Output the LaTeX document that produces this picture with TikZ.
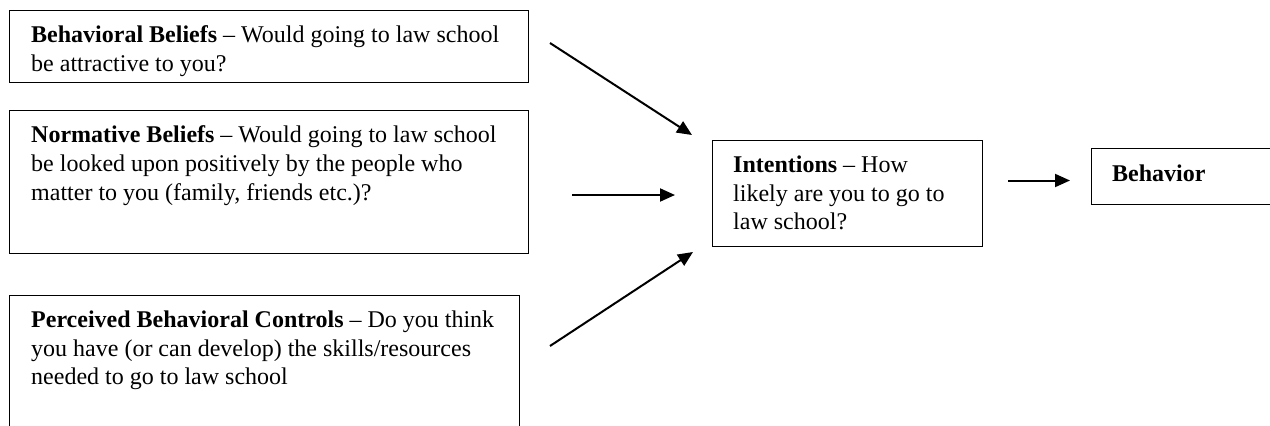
\documentclass[tikz,border=0pt]{standalone}
\usepackage{fontspec}
\setmainfont{Liberation Serif}
\usetikzlibrary{arrows.meta}
\tikzset{
  boxframe/.style={draw=black, line width=1.2pt, inner sep=0pt, anchor=north west, fill=none},
  boxtext/.style={inner sep=0pt, anchor=base west},
  flow/.style={line width=2pt, -{Triangle[length=15pt,width=13pt]}}
}
\newcommand{\bt}[1]{\parbox[t]{560pt}{\fontsize{24pt}{28.7pt}\selectfont\raggedright #1}}
\begin{document}
\begin{tikzpicture}[x=1pt,y=-1pt]
\useasboundingbox (0,0) rectangle (1270,426);
\clip (0,0) rectangle (1270,426);
\fill[white] (0,0) rectangle (1270,426);
% boxes
\node[boxframe, minimum width=519pt, minimum height=72pt] (b1) at (9,10) {};
\node[boxframe, minimum width=519pt, minimum height=143pt] (b2) at (9,110) {};
\node[boxframe, minimum width=510pt, minimum height=200pt] (b3) at (9,295) {};
\node[boxframe, minimum width=270pt, minimum height=106pt] (b4) at (712,140) {};
\node[boxframe, minimum width=200pt, minimum height=56pt] (b5) at (1091,148) {};
% texts
\node[boxtext] (t1) at (31,42.7) {\bt{\textbf{Behavioral Beliefs} – Would going to law school\\be attractive to you?}};
\node[boxtext] (t2) at (31,142.7) {\bt{\textbf{Normative Beliefs} – Would going to law school\\be looked upon positively by the people who\\matter to you (family, friends etc.)?}};
\node[boxtext] (t3) at (31,327.5) {\bt{\textbf{Perceived Behavioral Controls} – Do you think\\you have (or can develop) the skills/resources\\needed to go to law school}};
\node[boxtext] (t4) at (733,172.5) {\bt{\textbf{Intentions} – How\\likely are you to go to\\law school?}};
\node[boxtext] (t5) at (1112,181.5) {\bt{\textbf{Behavior}}};
% arrow end points
\coordinate (a1s) at (550,43);
\coordinate (a1e) at (692,135);
\coordinate (a2s) at (572,195);
\coordinate (a2e) at (675,195);
\coordinate (a3s) at (550,346);
\coordinate (a3e) at (693,252);
\coordinate (a4s) at (1008,180.5);
\coordinate (a4e) at (1070,180.5);
\draw[flow] (a1s) -- (a1e);
\draw[flow] (a2s) -- (a2e);
\draw[flow] (a3s) -- (a3e);
\draw[flow] (a4s) -- (a4e);
\end{tikzpicture}
\end{document}
